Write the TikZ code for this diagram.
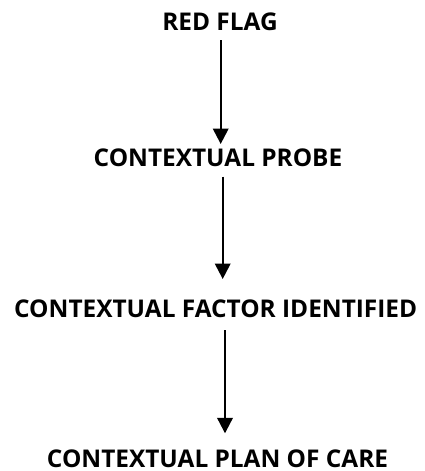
\documentclass[tikz,border=0pt]{standalone}
\usepackage{fontspec}
\setmainfont{Open Sans}
\usetikzlibrary{arrows.meta}
\begin{document}
\begin{tikzpicture}[x=1pt,y=1pt,
  lbl/.style={anchor=base,inner sep=0pt,font=\fontsize{24.4}{29}\selectfont\bfseries},
  arr/.style={line width=2.2pt,-{Triangle[width=15.5pt,length=15.5pt]}}]
\useasboundingbox (0,0) rectangle (425,-471);
\node[lbl] (a) at (220,-30) {RED FLAG};
\node[lbl] (b) at (218,-166) {CONTEXTUAL PROBE};
\node[lbl] (c) at (215.7,-317) {CONTEXTUAL FACTOR IDENTIFIED};
\node[lbl] (d) at (217.5,-467) {CONTEXTUAL PLAN OF CARE};
\coordinate (a1) at (220.7,-40);
\coordinate (b1) at (220.7,-144);
\coordinate (b2) at (222.7,-176.7);
\coordinate (c1) at (222.7,-279);
\coordinate (c2) at (225,-330);
\coordinate (d1) at (225,-433.3);
\draw[arr] (a1) -- (b1);
\draw[arr] (b2) -- (c1);
\draw[arr] (c2) -- (d1);
\end{tikzpicture}
\end{document}
